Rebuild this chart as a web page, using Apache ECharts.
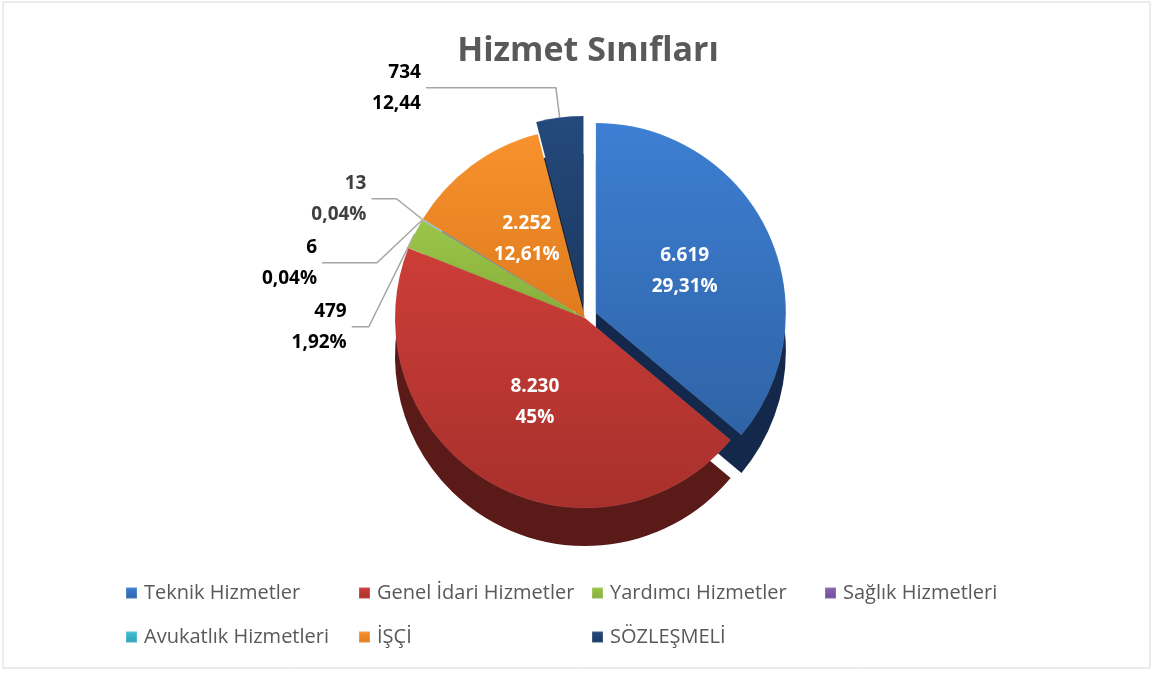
<!DOCTYPE html>
<html>
<head>
<meta charset="utf-8">
<script src="https://cdn.jsdelivr.net/npm/echarts@6/dist/echarts.min.js"></script>
<style>
html,body{margin:0;padding:0;background:#fff;}
#c{width:1155px;height:673px;}
</style>
</head>
<body>
<div id="c"></div>
<script>
// ---- data ----
const categories = ['Teknik Hizmetler','Genel İdari Hizmetler','Yardımcı Hizmetler','Sağlık Hizmetleri','Avukatlık Hizmetleri','İŞÇİ','SÖZLEŞMELİ'];
const values = [6619, 8230, 479, 6, 13, 2252, 734];
const valueLabels = ['6.619','8.230','479','6','13','2.252','734'];
const percentLabels = ['29,31%','45%','1,92%','0,04%','0,04%','12,61%','12,44'];
const exploded = [true, false, false, false, false, false, true];
const insideLabel = [true, true, false, false, false, true, false];

// ---- styles ----
const topColors = [
  ['#3d7fd3','#2f63a6'],
  ['#cd3d38','#a8302c'],
  ['#9cc64a','#86ad3a'],
  ['#8a64b8','#6f4d98'],
  ['#43bfd6','#2f9fb4'],
  ['#f7922e','#e07b1e'],
  ['#24497c','#1b3960']
];
const sideColors = ['#13284a','#5a1a18','#364619','#3d2a55','#1d5560','#6e380c','#0d1c33'];
const outsideLabelColors = ['#000','#000','#000','#000','#404040','#000','#000'];
const lineLen = [null, null, [20, 45], [30, 55], [40, 25], null, [30, 130]];

const center = [585, 318];
const radius = 190;
const depth = 38;

function grad(c){
  return {type:'linear',x:0,y:0,x2:0,y2:1,colorStops:[{offset:0,color:c[0]},{offset:1,color:c[1]}]};
}

const mainData = categories.map((name,i)=>({
  name: name,
  value: values[i],
  selected: exploded[i],
  itemStyle: {color: grad(topColors[i])},
  label: insideLabel[i] ? {
    position:'inside', color:'#fff'
  } : {
    position:'outside', color: outsideLabelColors[i]
  },
  labelLine: insideLabel[i] ? {show:false} : {show:true, length: lineLen[i][0], length2: lineLen[i][1]}
}));

const sideData = categories.map((name,i)=>({
  name: name,
  value: values[i],
  selected: exploded[i],
  itemStyle: {color: sideColors[i]}
}));

const chart = echarts.init(document.getElementById('c'));
chart.setOption({
  backgroundColor:'#fff',
  animation:false,
  title:{
    text:'Hizmet Sınıfları',
    left:583, textAlign:'center', top:29,
    textStyle:{fontFamily:'Open Sans', fontWeight:'bold', fontSize:34, color:'#595959'}
  },
  legend:{
    data: categories,
    left:125, top:571, width:940,
    itemWidth:11, itemHeight:11, itemGap:0,
    icon:'rect', padding:0,
    textStyle:{fontFamily:'Open Sans', fontSize:20, color:'#595959', width:214, lineHeight:44, overflow:'none', padding:[0,0,0,2]}
  },
  graphic:[{
    type:'rect', silent:true, z:-1,
    shape:{x:3, y:2, width:1147, height:666},
    style:{fill:'none', stroke:'#d9d9d9', lineWidth:1}
  }],
  series:[
    {
      type:'pie', name:'top', z:3,
      center:[center[0], center[1]],
      radius: radius,
      startAngle:90, clockwise:true,
      selectedMode:'multiple', selectedOffset:12,
      avoidLabelOverlap:true,
      label:{
        show:true,
        fontFamily:'Open Sans', fontWeight:'bold', fontSize:19, lineHeight:31,
        formatter: p => valueLabels[p.dataIndex] + '\n' + percentLabels[p.dataIndex]
      },
      labelLine:{lineStyle:{color:'#a6a6a6', width:1.5}},
      itemStyle:{borderColor:'rgba(255,255,255,0.15)', borderWidth:0.5},
      emphasis:{disabled:true},
      data: mainData
    },
    {
      type:'pie', name:'side', z:2, silent:true,
      center:[center[0], center[1] + depth],
      radius: radius,
      startAngle:90, clockwise:true,
      selectedMode:'multiple', selectedOffset:12,
      label:{show:false}, labelLine:{show:false},
      emphasis:{disabled:true},
      data: sideData
    }
  ]
});
</script>
</body>
</html>
